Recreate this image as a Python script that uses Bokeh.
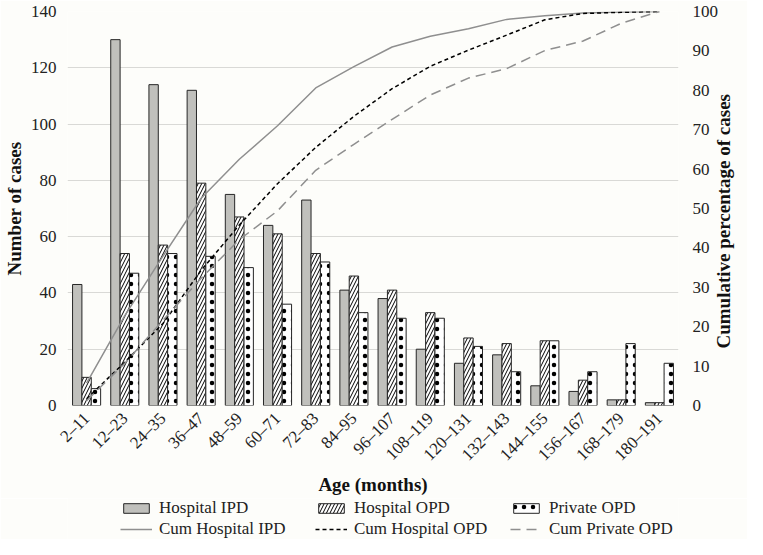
from math import pi
from bokeh.plotting import figure
from bokeh.layouts import column
from bokeh.models import (ColumnDataSource, FactorRange, Range1d, LinearAxis,
                          Legend, LegendItem, FixedTicker)
from bokeh.transform import dodge
from bokeh.embed import file_html
from bokeh.resources import INLINE

# ---------------- data ----------------
categories = ["2–11", "12–23", "24–35", "36–47", "48–59", "60–71", "72–83",
              "84–95", "96–107", "108–119", "120–131", "132–143", "144–155",
              "156–167", "168–179", "180–191"]
hospital_ipd = [43, 130, 114, 112, 75, 64, 73, 41, 38, 20, 15, 18, 7, 5, 2, 1]
hospital_opd = [10, 54, 57, 79, 67, 61, 54, 46, 41, 33, 24, 22, 23, 9, 2, 1]
private_opd = [6, 47, 54, 53, 49, 36, 51, 33, 31, 31, 21, 12, 23, 12, 22, 15]
cum_hospital_ipd = [5.7, 22.8, 37.9, 52.6, 62.5, 71.0, 80.6, 86.0, 91.0, 93.7,
                    95.6, 98.0, 98.9, 99.6, 99.9, 100.0]
cum_hospital_opd = [1.7, 11.0, 20.8, 34.3, 45.8, 56.3, 65.5, 73.4, 80.4, 86.1,
                    90.2, 94.0, 97.9, 99.5, 99.8, 100.0]
cum_private_opd = [1.2, 10.7, 21.6, 32.3, 42.1, 49.4, 59.7, 66.3, 72.6, 78.8,
                   83.1, 85.5, 90.1, 92.5, 97.0, 100.0]
left_ticks = [0, 20, 40, 60, 80, 100, 120, 140]
right_ticks = [0, 10, 20, 30, 40, 50, 60, 70, 80, 90, 100]

# ---------------- styling ----------------
FONT = "Liberation Serif"
BG = "#fdfdfa"
GRAY_FILL = "#c0c0bc"
OUTLINE = "#262626"
LINE_GRAY = "#8f8f8f"

IPD_STYLE = dict(fill_color=GRAY_FILL, line_color=OUTLINE, line_width=1)
OPD_STYLE = dict(fill_color="white", line_color=OUTLINE, line_width=1,
                 hatch_pattern="right_diagonal_line", hatch_color="black",
                 hatch_weight=1, hatch_scale=7)
PRIV_STYLE = dict(fill_color="white", line_color=OUTLINE, line_width=1,
                  hatch_pattern="dot", hatch_color="black", hatch_weight=1.5,
                  hatch_scale=9)
C_IPD_STYLE = dict(line_color=LINE_GRAY, line_width=1.5)
C_OPD_STYLE = dict(line_color="black", line_width=1.5, line_dash="4 3")
C_PRIV_STYLE = dict(line_color=LINE_GRAY, line_width=1.5, line_dash="10 6")

src = ColumnDataSource(dict(cat=categories, ipd=hospital_ipd, opd=hospital_opd,
                            priv=private_opd, c_ipd=cum_hospital_ipd,
                            c_opd=cum_hospital_opd, c_priv=cum_private_opd))

# ---------------- main chart ----------------
p = figure(x_range=FactorRange(factors=categories), y_range=Range1d(0, 140),
           width=747, height=498, output_backend="svg", toolbar_location=None,
           min_border_left=57, min_border_right=50, min_border_top=11,
           min_border_bottom=0, background_fill_color=BG,
           border_fill_color=BG, outline_line_color=None)
p.extra_y_ranges = {"pct": Range1d(0, 100)}

bw = 0.245
p.vbar(x=dodge("cat", -bw, range=p.x_range), top="ipd", width=bw, source=src,
       **IPD_STYLE)
p.vbar(x=dodge("cat", 0, range=p.x_range), top="opd", width=bw, source=src,
       **OPD_STYLE)
p.vbar(x=dodge("cat", bw, range=p.x_range), top="priv", width=bw, source=src,
       **PRIV_STYLE)
p.line(x="cat", y="c_ipd", source=src, y_range_name="pct", **C_IPD_STYLE)
p.line(x="cat", y="c_opd", source=src, y_range_name="pct", **C_OPD_STYLE)
p.line(x="cat", y="c_priv", source=src, y_range_name="pct", **C_PRIV_STYLE)

p.yaxis.ticker = FixedTicker(ticks=left_ticks)
p.yaxis.axis_label = "Number of cases"
right = LinearAxis(y_range_name="pct", ticker=FixedTicker(ticks=right_ticks),
                   axis_label="\u00a0" * 12 + "Cumulative percentage of cases")
p.add_layout(right, "right")
try:
    right.axis_label_orientation = pi / 2
    right.axis_label_align = "start"
except Exception:
    pass

for ax in [p.yaxis[0], right]:
    ax.axis_line_color = None
    ax.major_tick_line_color = None
    ax.minor_tick_line_color = None
    ax.major_label_text_font = FONT
    ax.major_label_text_font_size = "17px"
    ax.major_label_text_color = "#222222"
    ax.axis_label_text_font = FONT
    ax.axis_label_text_font_size = "19px"
    ax.axis_label_text_font_style = "bold"
    ax.axis_label_text_color = "#111111"
    ax.major_label_standoff = 5
    ax.axis_label_standoff = 3
right.major_label_standoff = 8
right.axis_label_standoff = 2

p.xaxis.axis_label = "Age (months)"
p.xaxis.axis_line_color = None
p.xaxis.major_tick_line_color = None
p.xaxis.minor_tick_line_color = None
p.xaxis.major_label_orientation = pi / 4
p.xaxis.major_label_text_font = FONT
p.xaxis.major_label_text_font_size = "17px"
p.xaxis.major_label_text_color = "#222222"
p.xaxis.major_label_standoff = 4
p.xaxis.axis_label_text_font = FONT
p.xaxis.axis_label_text_font_size = "19px"
p.xaxis.axis_label_text_font_style = "bold"
p.xaxis.axis_label_text_color = "#111111"
p.xaxis.axis_label_standoff = 0

p.xgrid.grid_line_color = None
p.ygrid.ticker = FixedTicker(ticks=left_ticks)
p.ygrid.grid_line_color = "#d9d9d6"
p.ygrid.grid_line_width = 1.2

# ---------------- legend strip (frame aligned with the chart's frame) ----------------
lf = figure(width=747, height=41, output_backend="svg", toolbar_location=None,
            x_axis_type=None, y_axis_type=None, x_range=Range1d(1000, 1001),
            y_range=Range1d(1000, 1001), min_border_left=0, min_border_right=0,
            min_border_top=0, min_border_bottom=0, background_fill_color=BG,
            border_fill_color=BG, outline_line_color=None)
# legend-key renderers: the same data, outside this strip's ranges (not shown)
g_ipd = lf.vbar(x="ipd", top="ipd", width=0.1, source=src, **IPD_STYLE)
g_opd = lf.vbar(x="opd", top="opd", width=0.1, source=src, **OPD_STYLE)
g_priv = lf.vbar(x="priv", top="priv", width=0.1, source=src, **PRIV_STYLE)
g_cipd = lf.line(x="c_ipd", y="c_ipd", source=src, **C_IPD_STYLE)
g_copd = lf.line(x="c_opd", y="c_opd", source=src, **C_OPD_STYLE)
g_cpriv = lf.line(x="c_priv", y="c_priv", source=src, **C_PRIV_STYLE)


def make_legend(items, loc):
    lg = Legend(items=items, location=loc, orientation="horizontal",
                padding=0, margin=0, spacing=16, glyph_width=32,
                glyph_height=12, label_standoff=7, label_height=18,
                label_width=140, label_text_font=FONT,
                label_text_font_size="17px", label_text_color="#222222",
                border_line_color=None, background_fill_alpha=0)
    lf.add_layout(lg, "center")


make_legend([LegendItem(label="Hospital IPD", renderers=[g_ipd]),
             LegendItem(label="Hospital OPD", renderers=[g_opd]),
             LegendItem(label="Private OPD", renderers=[g_priv])], (53, 21))
make_legend([LegendItem(label="Cum Hospital IPD", renderers=[g_cipd]),
             LegendItem(label="Cum Hospital OPD", renderers=[g_copd]),
             LegendItem(label="Cum Private OPD", renderers=[g_cpriv])], (53, 0))

layout = column(p, lf, spacing=0)
open("out.html", "w").write(file_html(layout, INLINE))
